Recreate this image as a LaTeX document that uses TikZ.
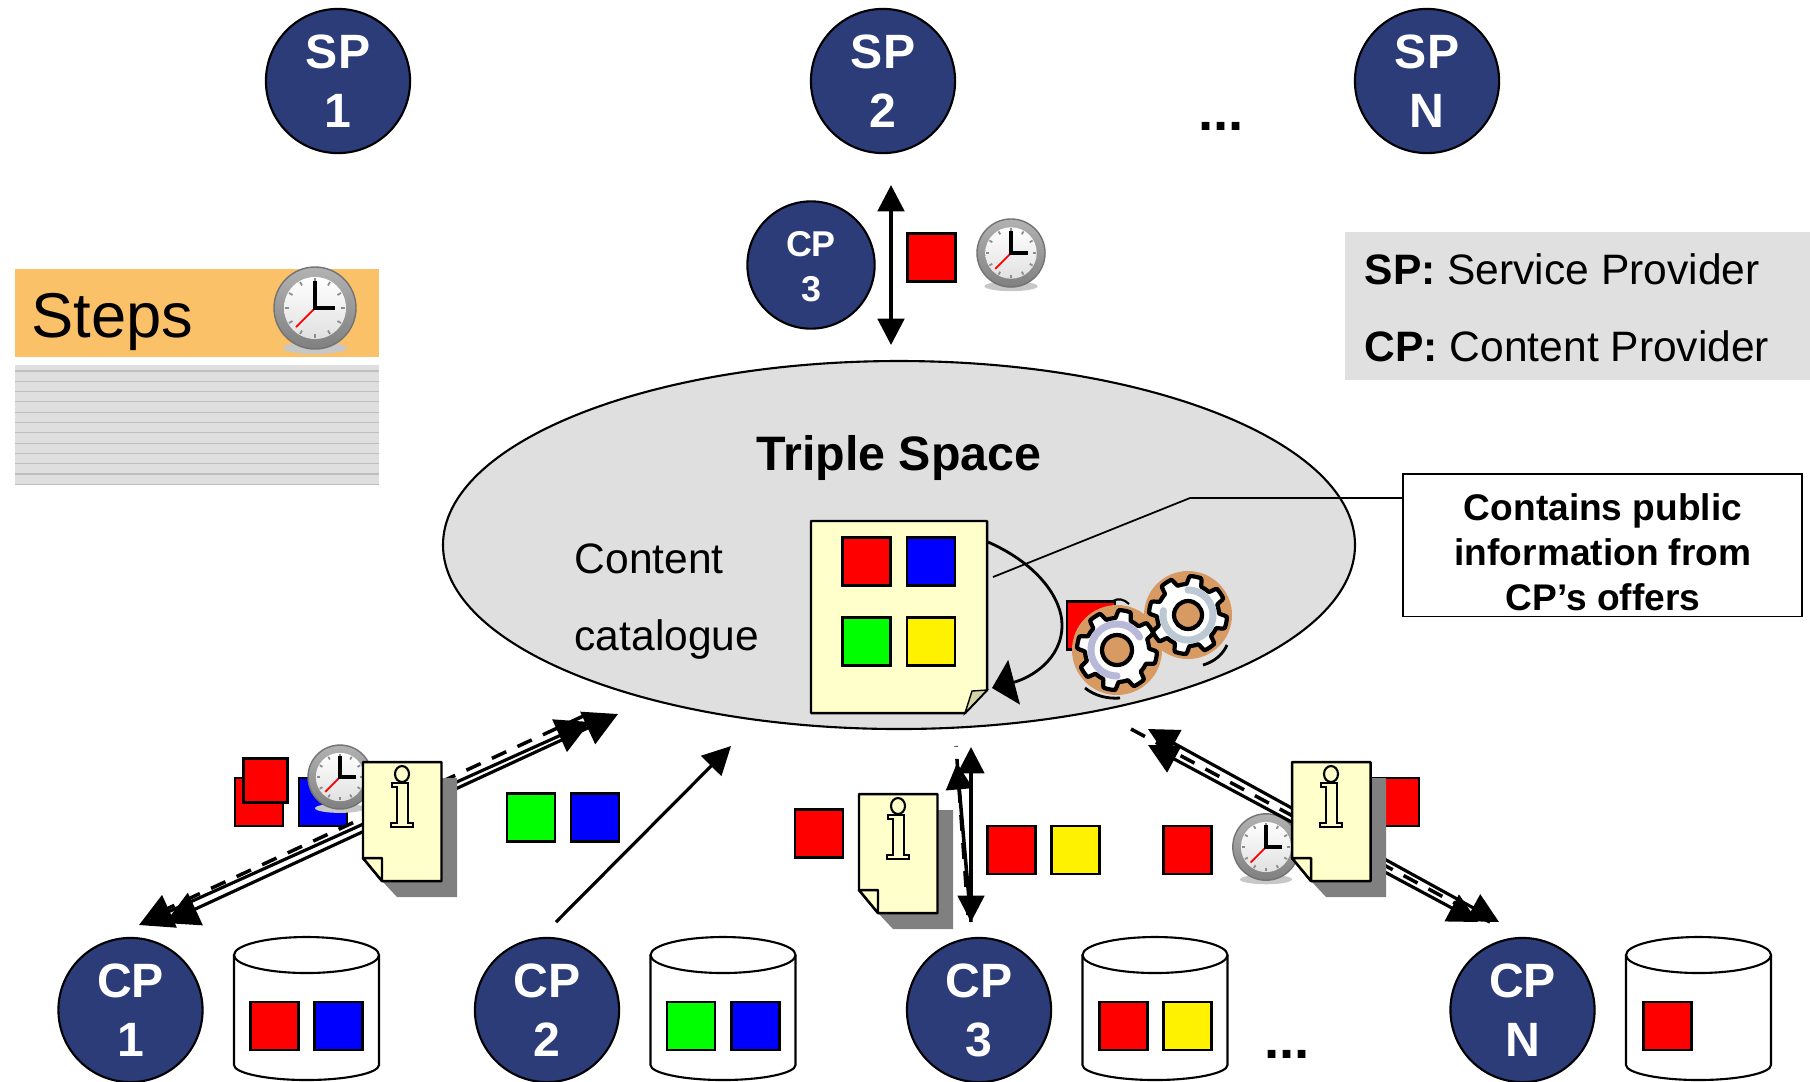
\documentclass[tikz,border=0pt]{standalone}
\usepackage{fontspec}
\setmainfont{Liberation Sans}
\usetikzlibrary{arrows.meta}
\definecolor{navy}{HTML}{2B3C78}
\definecolor{cream}{HTML}{FFFFCC}
\definecolor{flap}{HTML}{D4D4A4}
\definecolor{stepor}{HTML}{FBC168}
\definecolor{pale}{HTML}{DFDFDF}
\definecolor{shadowg}{HTML}{808080}
\definecolor{geartan}{HTML}{D89A63}
\definecolor{lav}{HTML}{B8B8D8}
\definecolor{bluegrey}{HTML}{BCC8D4}
\newcommand{\lift}[1]{\rule{0pt}{#1em}}
\tikzset{
  provbig/.style={circle,draw=black,fill=navy,line width=.6pt,minimum size=41pt,inner sep=0pt,text=white,align=center,
     font=\fontsize{13.7}{16.8}\selectfont\bfseries},
  provsmall/.style={circle,draw=black,fill=navy,line width=.6pt,minimum size=36.2pt,inner sep=0pt,text=white,align=center,
     font=\fontsize{10.2}{12.8}\selectfont\bfseries},
  sq/.style={draw=black,line width=.7pt,inner sep=0pt,minimum width=13.7pt,minimum height=13.7pt},
  sqs/.style={draw=black,line width=.7pt,inner sep=0pt,minimum width=12.5pt,minimum height=12.5pt},
  txt/.style={inner sep=0pt,anchor=base west,font=\fontsize{12.1}{14}\selectfont},
  dots/.style={inner sep=0pt,anchor=base,font=\fontsize{15.5}{16}\selectfont\bfseries},
  flowa/.style={line width=.9pt,{Triangle[length=9.5pt,width=10pt]}-{Triangle[length=9.5pt,width=10pt]}},
  flowb/.style={line width=1.15pt,{Triangle[length=7.5pt,width=7.5pt]}-{Triangle[length=7.5pt,width=7.5pt]}},
  flowc/.style={line width=1pt,{Triangle[length=7.5pt,width=7.5pt]}-{Triangle[length=7.5pt,width=7.5pt]}},
  flowe/.style={line width=.9pt,{Triangle[length=8.5pt,width=8.5pt]}-{Triangle[length=8.5pt,width=8.5pt]}},
  flowd/.style={line width=1pt,dash pattern=on 4.5pt off 3.5pt},
  cyl/.style={draw=black,fill=white,line width=.6pt},
}
\newcommand{\clockicon}[3]{%
\begin{scope}[shift={(#1,#2)},scale=#3]
  \fill[black!22] (0,40) ellipse [x radius=32,y radius=6];
  \shade[top color=black!30,bottom color=black!50] (0,0) circle (41);
  \draw[black!55,line width=.4pt] (0,0) circle (41);
  \shade[top color=white,bottom color=black!12] (0,0) circle (31);
  \foreach \a in {0,30,...,330}{\draw[black!45,line width=.5pt] (\a:26) -- (\a:30);}
  \draw[red,line width=.5pt] (0,0) -- (-19,19);
  \draw[black,line width=1.1pt] (0,-27) -- (0,0) -- (20,0);
\end{scope}}
\newcommand{\infodoc}[2]{%
\begin{scope}[shift={(#1,#2)}]
  \fill[shadowg] (16,16) -- (94,16) -- (94,135) -- (34,135) -- (19,119) -- cycle;
  \draw[black,fill=cream,line width=.7pt,line join=round] (0,0) -- (78.5,0) -- (78.5,119) -- (19,119) -- (0,96) -- cycle;
  \draw[black,fill=cream,line width=.7pt,line join=round] (0,96) -- (19,96) -- (19,119) -- cycle;
  \draw[black,fill=cream,line width=.6pt] (39,12) ellipse [x radius=7,y radius=8];
  \draw[black,fill=cream,line width=.6pt] (29,21) -- (45,21) -- (45,61) -- (50,61) -- (50,65) -- (28,65) -- (28,61) -- (34,61) -- (34,25) -- (29,25) -- cycle;
\end{scope}}
\newcommand{\gearicon}[6]{%
\begin{scope}[shift={(#1,#2)}]
  \draw[black,fill=white,line width=1.2pt,line join=round] plot[domain=0:360,samples=241,variable=\t]
    ({(#3+4*max(-1,min(1,3*sin(8*\t))))*cos(\t)},{(#3+4*max(-1,min(1,3*sin(8*\t))))*sin(\t)}) -- cycle;
  \draw[#4,line width=2pt,line cap=round] plot[domain=#5:#6,samples=40,variable=\t] ({(#3-10)*cos(\t)},{(#3-10)*sin(\t)});
  \draw[black,fill=geartan,line width=1.2pt] (0,0) circle (#3-21);
\end{scope}}
\begin{document}
\begin{tikzpicture}[x=0.01cm,y=-0.01cm]
\useasboundingbox (0,0) rectangle (1810,1081);
\clip (0,0) rectangle (1810,1081);

% service providers
\node[provbig] (sp1) at (338,81) {SP\\1};
\node[provbig] (sp2) at (883,81) {SP\\2};
\node[provbig] (spn) at (1427,81) {SP\\N};
\node[dots] (dotstop) at (1221,130) {...};

% top exchange
\node[provsmall] (cp3top) at (811,265) {\lift{.8}CP\\3};
\coordinate (topa) at (891,185);
\coordinate (topb) at (891,345);
\draw[flowb] (topa) -- (topb);
\node[sq,fill=red] (toppkt) at (931.5,257.5) {};
\clockicon{1011}{253}{.83}

% steps
\node[fill=stepor,minimum width=103.6pt,minimum height=25pt,inner sep=0pt] (stepsbar) at (197,313) {};
\node[inner sep=0pt,anchor=base west,font=\fontsize{18}{20}\selectfont] (stepslabel) at (31,337) {Steps};
\clockicon{315}{308}{1}
\fill[pale] (15,365) rectangle (379,485);
\foreach \yy in {371,381.3,...,485}{\draw[black!25,line width=.3pt] (15,\yy) -- (379,\yy);}

% legend
\fill[black!12] (1345,232) rectangle (1810,380);
\node[txt] (lgsp) at (1364,284) {\textbf{SP:} Service Provider};
\node[txt] (lgcp) at (1364,361) {\textbf{CP:} Content Provider};

% triple space
\draw[black,fill=pale,line width=.6pt] (899,545) ellipse [x radius=456,y radius=184];
\node[inner sep=0pt,anchor=base,font=\fontsize{13.75}{16}\selectfont\bfseries] (ts) at (899,470) {Triple Space};
\node[txt] (cat1) at (574,573) {Content};
\node[txt] (cat2) at (574,650) {catalogue};

% catalogue document
\draw[black,fill=cream,line width=.7pt,line join=round] (811,521) -- (987,521) -- (987,690) -- (965,713) -- (811,713) -- cycle;
\draw[black,fill=flap,line width=.4pt] (965,713) -- (987,690) -- (972,691) -- cycle;
\node[sq,fill=red] (cr) at (866.5,561.5) {};
\node[sq,fill=blue] (cb) at (931,561.5) {};
\node[sq,fill=green] (cg) at (866.5,641.5) {};
\node[sq,fill=yellow] (cy) at (931,641.5) {};

% gears
\node[sq,fill=red] (gearpkt) at (1091,625.5) {};
\fill[geartan] (1117,650) circle (45);
\fill[geartan] (1188,615) circle (44);
\fill[geartan] (1150,633) circle (12);
\gearicon{1117}{650}{36}{lav}{90}{330}
\gearicon{1188}{615}{35}{bluegrey}{-90}{190}
\draw[black,line width=.8pt] (1085,688) .. controls (1095,696) and (1108,699) .. (1120,698);
\draw[black,line width=.8pt] (1203,665) .. controls (1213,662) and (1222,656) .. (1227,645);
\draw[black,line width=.6pt] (1113,601) .. controls (1118,598) and (1124,599) .. (1129,604);

% self-loop on the catalogue
\coordinate (loopa) at (988,542);
\coordinate (loopb) at (992,688);
\draw[black,line width=.8pt,-{Triangle[length=6.5pt,width=13pt]}] (loopa) .. controls (1040,565) and (1062,600) .. (1062,625) .. controls (1062,660) and (1030,678) .. (loopb);

% callout
\node[draw=black,fill=white,line width=.5pt,minimum width=113.6pt,minimum height=40.6pt,inner sep=0pt] (callout) at (1602.5,545) {};
\node[inner sep=0pt,align=center,font=\fontsize{10.55}{12.8}\selectfont\bfseries] (calloutlabel) at (1603,552) {Contains public\\information from\\CP’s offers};
\coordinate (lblA) at (993,577);
\coordinate (lblB) at (1190,498);
\coordinate (lblC) at (1402,498);
\draw[black,line width=.5pt] (lblA) -- (lblB) -- (lblC);

% CP1 flows
\node[sq,fill=red] (p1a) at (259,802) {};
\node[sqs,fill=red] (p1b) at (265.5,780.5) {};
\node[sq,fill=blue] (p1c) at (323,802) {};
\clockicon{340}{777}{.78}
\coordinate (a1s) at (139,925);
\coordinate (a1e) at (590,722);
\coordinate (b1s) at (165,923);
\coordinate (b1e) at (618,714);
\coordinate (d1s) at (160,912);
\coordinate (d1e) at (592,712);
\draw[flowa] (a1s) -- (a1e);
\draw[flowa] (b1s) -- (b1e);
\draw[flowd] (d1s) -- (d1e);
\infodoc{363}{762}

% CP2 flow
\node[sq,fill=green] (p2a) at (531,817.5) {};
\node[sq,fill=blue] (p2b) at (595,817.5) {};
\coordinate (a2s) at (556,922);
\coordinate (a2e) at (731,746);
\draw[line width=.9pt,-{Triangle[length=8pt,width=8pt]}] (a2s) -- (a2e);

% CP3 flows
\node[sq,fill=red] (p3a) at (819,833.5) {};
\infodoc{859}{794}
\coordinate (a3s) at (971,922);
\coordinate (a3e) at (971,747);
\coordinate (b3e) at (957,763);
\coordinate (d3e) at (956,746);
\coordinate (d3s) at (968,915);
\draw[flowc] (a3s) -- (a3e);
\draw[line width=1pt,-{Triangle[length=7.5pt,width=7.5pt]}] (a3s) -- (b3e);
\draw[flowd] (d3s) -- (d3e);
\node[sq,fill=red] (p3b) at (1011.5,850) {};
\node[sq,fill=yellow] (p3c) at (1075.5,850) {};

% CPN flows
\node[sq,fill=red] (p4a) at (1187.5,850) {};
\node[sq,fill=red] (p4b) at (1395,802) {};
\clockicon{1266}{847}{.81}
\coordinate (a4s) at (1148,729);
\coordinate (a4e) at (1499,922);
\coordinate (b4s) at (1148,745);
\coordinate (b4e) at (1478,922);
\coordinate (d4s) at (1131,729);
\coordinate (d4e) at (1490,922);
\draw[flowe] (a4s) -- (a4e);
\draw[flowe] (b4s) -- (b4e);
\draw[flowd] (d4s) -- (d4e);
\infodoc{1292}{762}

% content providers and their stores
\node[provbig] (cp1) at (130.5,1010) {CP\\1};
\node[provbig] (cp2) at (547,1010) {CP\\2};
\node[provbig] (cp3) at (979,1010) {CP\\3};
\node[provbig] (cpn) at (1522.5,1010) {CP\\N};
\foreach \cx in {306.5,723,1155,1698.5}{
  \draw[cyl] (\cx-72.5,955) -- (\cx-72.5,1065) .. controls (\cx-72.5,1073) and (\cx-40,1080) .. (\cx,1080) .. controls (\cx+40,1080) and (\cx+72.5,1073) .. (\cx+72.5,1065) -- (\cx+72.5,955);
  \draw[cyl] (\cx,955) ellipse [x radius=72.5,y radius=18];
}
\node[sq,fill=red] (s1a) at (274.5,1026) {};
\node[sq,fill=blue] (s1b) at (338.5,1026) {};
\node[sq,fill=green] (s2a) at (691,1026) {};
\node[sq,fill=blue] (s2b) at (755.5,1026) {};
\node[sq,fill=red] (s3a) at (1123.5,1026) {};
\node[sq,fill=yellow] (s3b) at (1187.5,1026) {};
\node[sq,fill=red] (s4a) at (1667.5,1026) {};
\node[dots] (dotsbot) at (1287,1058) {...};
\end{tikzpicture}
\end{document}
